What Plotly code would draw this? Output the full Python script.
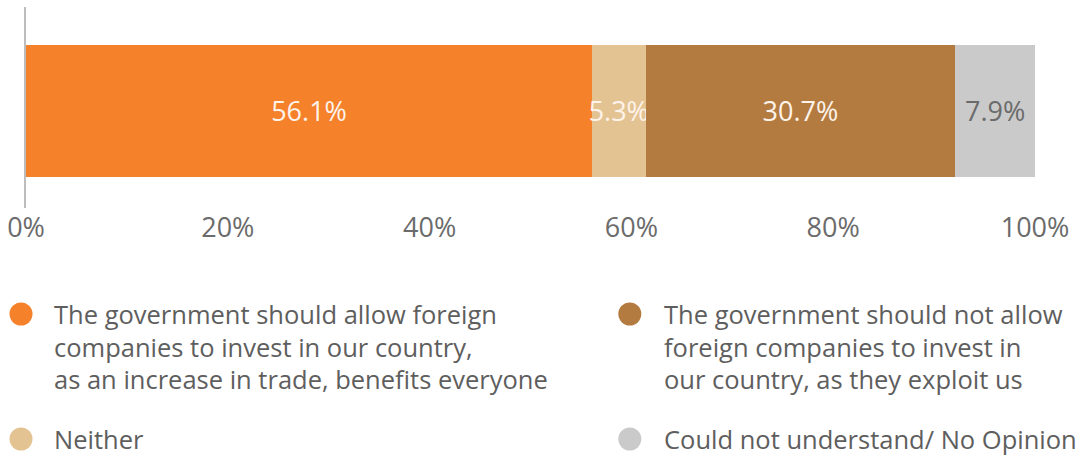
import plotly.graph_objects as go

# Survey responses on foreign investment (share of respondents, %)
categories = [
    "The government should allow foreign<br>companies to invest in our country,<br>as an increase in trade, benefits everyone",
    "Neither",
    "The government should not allow<br>foreign companies to invest in<br>our country, as they exploit us",
    "Could not understand/ No Opinion",
]
values = [56.1, 5.3, 30.7, 7.9]
colors = ["#F5812A", "#E4C393", "#B47B40", "#CACACA"]
label_colors = ["#FDF3EA", "#FDF3EA", "#FDF3EA", "#6B6B6B"]
tick_values = [0, 20, 40, 60, 80, 100]
tick_labels = ["0%", "20%", "40%", "60%", "80%", "100%"]

W, H = 1084, 455
M_L, M_R, M_T, M_B = 24, 49, 7, 247
FONT = "Open Sans"
TEXT_GREY = "#5E5E5E"

fig = go.Figure()
for name, v, c, lc in zip(categories, values, colors, label_colors):
    fig.add_trace(go.Bar(
        x=[v], y=[""], orientation="h", name=name,
        marker=dict(color=c, line=dict(width=0)),
        text=[f"{v:.1f}%"], textposition="inside", insidetextanchor="middle",
        textangle=0,
        textfont=dict(family=FONT, size=27, color=lc),
        width=0.657, showlegend=False, hoverinfo="skip",
    ))

fig.update_layout(
    width=W, height=H,
    margin=dict(l=M_L, r=M_R, t=M_T, b=M_B),
    barmode="stack",
    plot_bgcolor="white", paper_bgcolor="white",
    uniformtext=dict(mode="show", minsize=27),
    xaxis=dict(
        range=[0, 100], tickvals=tick_values, ticktext=tick_labels,
        showgrid=False, zeroline=False, showline=False, ticks="",
        tickfont=dict(family=FONT, size=27, color="#6B6B6B"),
        ticklabelstandoff=1,
    ),
    yaxis=dict(
        range=[-0.483, 0.517], showgrid=False, zeroline=False,
        showline=True, linecolor="#BDBDBD", linewidth=2,
        showticklabels=False, ticks="",
    ),
    showlegend=False,
)

# Custom legend: round swatches with multi-line labels in two columns
plot_h = H - M_T - M_B
plot_w = W - M_L - M_R


def px_x(px):
    return (px - M_L) / plot_w


def px_y(py):
    return (H - M_B - py) / plot_h


legend_slots = [  # (swatch x, text x, first line y) per entry, in pixels
    (19, 50, 314),
    (19, 50, 439),
    (629, 661, 314),
    (629, 661, 439),
]
LINE_STEP = 32.5
for name, c, (sx, tx, ty) in zip(categories, colors, legend_slots):
    fig.add_shape(
        type="circle", xref="paper", yref="paper",
        xsizemode="pixel", ysizemode="pixel",
        xanchor=px_x(sx), yanchor=px_y(ty),
        x0=-11.5, x1=11.5, y0=-11.5, y1=11.5,
        fillcolor=c, line=dict(width=0),
    )
    for i, line in enumerate(name.split("<br>")):
        fig.add_annotation(
            text=line, xref="paper", yref="paper",
            x=px_x(tx), y=px_y(ty + i * LINE_STEP),
            xanchor="left", yanchor="middle", showarrow=False,
            font=dict(family=FONT, size=25.5, color=TEXT_GREY),
        )

fig.write_html("out.html")
